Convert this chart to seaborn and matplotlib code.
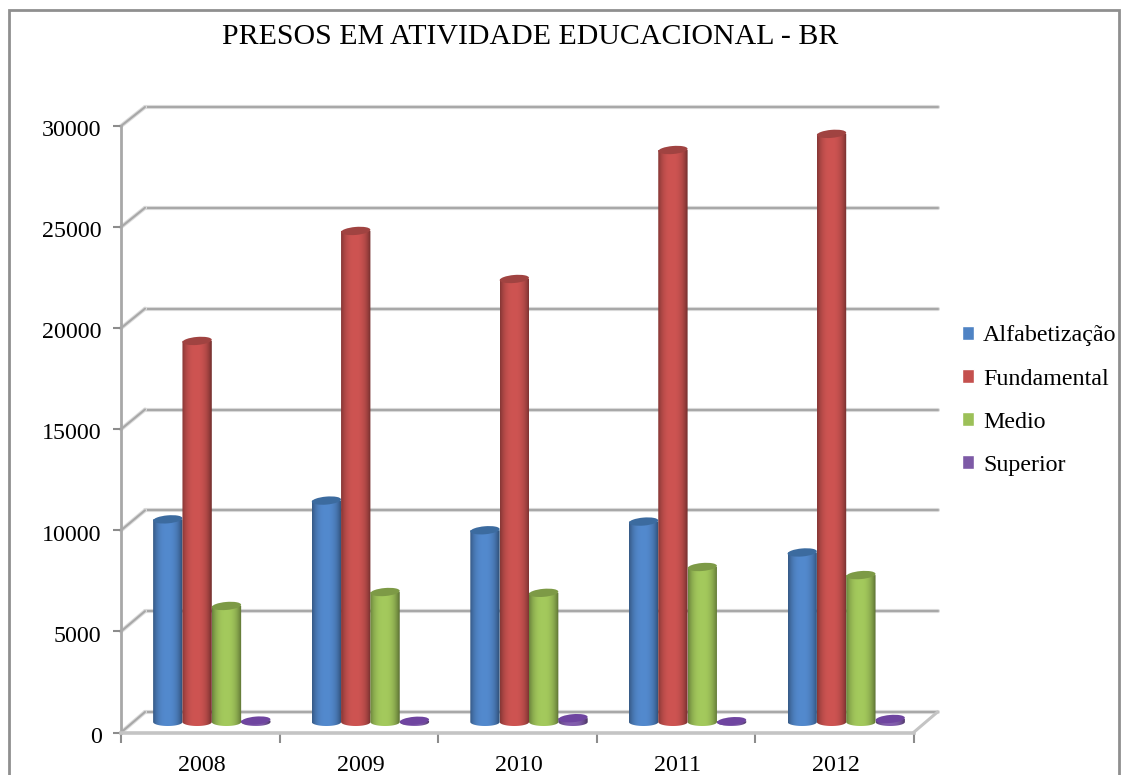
import numpy as np
import pandas as pd
import seaborn as sns
import matplotlib
matplotlib.use("Agg")
import matplotlib.pyplot as plt
import matplotlib.patheffects as pe
from matplotlib.colors import to_rgb
from matplotlib.patches import ConnectionPatch, Ellipse, Rectangle
from matplotlib.path import Path
from matplotlib.transforms import IdentityTransform, ScaledTranslation

# DATA ----------------------
years = ["2008", "2009", "2010", "2011", "2012"]
alfabetizacao = [10040, 10970, 9500, 9930, 8400]
fundamental = [18880, 24330, 21950, 28340, 29140]
medio = [5750, 6440, 6400, 7680, 7280]
superior = [70, 60, 190, 40, 150]
series_names = ["Alfabetização", "Fundamental", "Medio", "Superior"]
y_ticks = [0, 5000, 10000, 15000, 20000, 25000, 30000]

bar_colors = ["#4f83c4", "#c4504e", "#9cc058", "#7d5aa6"]
cap_colors = ["#3c6b9f", "#a04341", "#7d9a46", "#6f45a0"]
line_color = "#a8a8a8"

W, H = 1124, 775

df = pd.DataFrame({
    "year": years * 4,
    "serie": np.repeat(series_names, 5),
    "value": alfabetizacao + fundamental + medio + superior,
})

sns.set_theme(style="white")
plt.rcParams["font.family"] = ["Liberation Serif", "DejaVu Serif"]
plt.rcParams["text.color"] = "black"


def place(x0, x1, y_top, y_bottom, z):
    # axes from pixel edges of the picture
    a = fig.add_axes([x0 / W, 1 - y_bottom / H, (x1 - x0) / W, (y_bottom - y_top) / H], zorder=z)
    a.patch.set_visible(False)
    a.set_ylim(0, 30000)
    return a


fig = plt.figure(figsize=(W / 100, H / 100), dpi=100, facecolor="white")

# chart border, runs off the bottom of the picture
fig.add_artist(Rectangle((9 / W, -0.1), 1110 / W, 1.1 - 10 / H, transform=fig.transFigure,
                         fill=False, edgecolor="#8f8f8f", linewidth=2))

halo = [pe.withStroke(linewidth=3, foreground="#dcdcdc")]

# BACK WALL ----------------------
back = place(145, 937.5, 107, 712, 0)
back.set_xlim(0, 5)
back.axis("off")
for v in y_ticks:
    back.axhline(v, color=line_color, lw=1.5, path_effects=halo, clip_on=False)

# FRONT AXES ----------------------
front = place(121, 913.5, 126, 732.5, 1)
front.set_xlim(0, 5)
sns.despine(ax=front, top=True, right=True)
for side in ["left", "bottom"]:
    front.spines[side].set_color(line_color)
    front.spines[side].set_linewidth(2)
front.spines["bottom"].set_color("#c4c4c4")
front.spines["bottom"].set_linewidth(2.6)
front.set_yticks(y_ticks, [str(v) for v in y_ticks], fontsize=17.3)
front.set_xticks(range(6), [""] * 6)
front.set_xticks(np.arange(5) + 0.5, years, minor=True, fontsize=17.3)
front.tick_params(axis="y", length=6, width=1.5, color="#8c8c8c", pad=7, left=True, labelcolor="black")
front.tick_params(axis="x", which="major", length=7, width=1.5, color="#8c8c8c", bottom=True)
front.tick_params(axis="x", which="minor", length=0, pad=16, labelcolor="black")
for lab in front.get_yticklabels():
    lab.set_transform(lab.get_transform() + ScaledTranslation(-1 / 72, -1.6 / 72, fig.dpi_scale_trans))
for lab in front.get_xticklabels(minor=True):
    lab.set_transform(lab.get_transform() + ScaledTranslation(1.4 / 72, 0, fig.dpi_scale_trans))

# side lines from the front plane to the back wall
for v in y_ticks:
    fig.add_artist(ConnectionPatch((0, v), (0, v), "data", "data", axesA=front, axesB=back,
                                   color=line_color, lw=1.5, path_effects=halo))
fig.add_artist(ConnectionPatch((5, 0), (5, 0), "data", "data", axesA=front, axesB=back,
                               color="#c4c4c4", lw=2.2))

# BARS ----------------------
ax = place(132.5, 925.5, 116.5, 722, 2)
sns.barplot(data=df, x="year", y="value", hue="serie", hue_order=series_names,
            palette=bar_colors, width=0.74, saturation=1, ax=ax, legend=True)
handles, labels = ax.get_legend_handles_labels()
ax.get_legend().remove()
ax.set_xlim(-0.5, 4.5)
ax.set_ylim(0, 30000)
ax.axis("off")
fig.canvas.draw()

cap_h = 8
tilt = 5
u = np.linspace(-1, 1, 64)
shade = (1.05 - 0.42 * np.abs(u + 0.05) ** 2.6)[None, :, None]
order = 10
for color, cap, cont in zip(bar_colors, cap_colors, ax.containers):
    gradient = np.clip(np.array(to_rgb(color))[None, None, :] * shade, 0, 1)
    for bar in cont:
        x0, x1 = bar.get_x(), bar.get_x() + bar.get_width()
        val = bar.get_height()
        (px0, py0), (px1, py1) = ax.transData.transform([(x0, 0), (x1, val)])
        bar.set_visible(False)
        # cylinder body: straight sides with a rounded bottom
        t = np.linspace(np.pi, 2 * np.pi, 30)
        bx = (px0 + px1) / 2 + (px1 - px0) / 2 * np.cos(t)
        by = py0 + cap_h / 2 * np.sin(t)
        verts = np.column_stack([bx, by])
        verts = np.vstack([verts, [px1, py1], [px0, py1], verts[0]])
        im = ax.imshow(gradient, extent=(x0, x1, -400, val), aspect="auto",
                       interpolation="bilinear", zorder=order)
        im.set_clip_path(Path(verts), transform=IdentityTransform())
        im.set_clip_box(fig.bbox)
        # top of the cylinder
        ax.add_patch(Ellipse(((px0 + px1) / 2, py1), px1 - px0, cap_h, angle=tilt,
                             transform=IdentityTransform(), facecolor=cap,
                             edgecolor="none", zorder=order + 0.5, clip_on=False))
        order += 1
ax.set_xlim(-0.5, 4.5)
ax.set_ylim(0, 30000)

# LEGEND + TITLE ----------------------
fig.legend(handles, labels, loc="upper left", bbox_to_anchor=(962 / W, 1 - 325.5 / H),
           frameon=False, fontsize=17.3, handlelength=0.52, handleheight=0.52,
           handletextpad=0.36, labelspacing=0.92, borderpad=0, borderaxespad=0)

fig.text(530.5 / W, 1 - 37 / H, "PRESOS EM ATIVIDADE EDUCACIONAL - BR", ha="center", va="center",
         fontsize=21.5, color="black")

fig.savefig("out.png", dpi=100)
